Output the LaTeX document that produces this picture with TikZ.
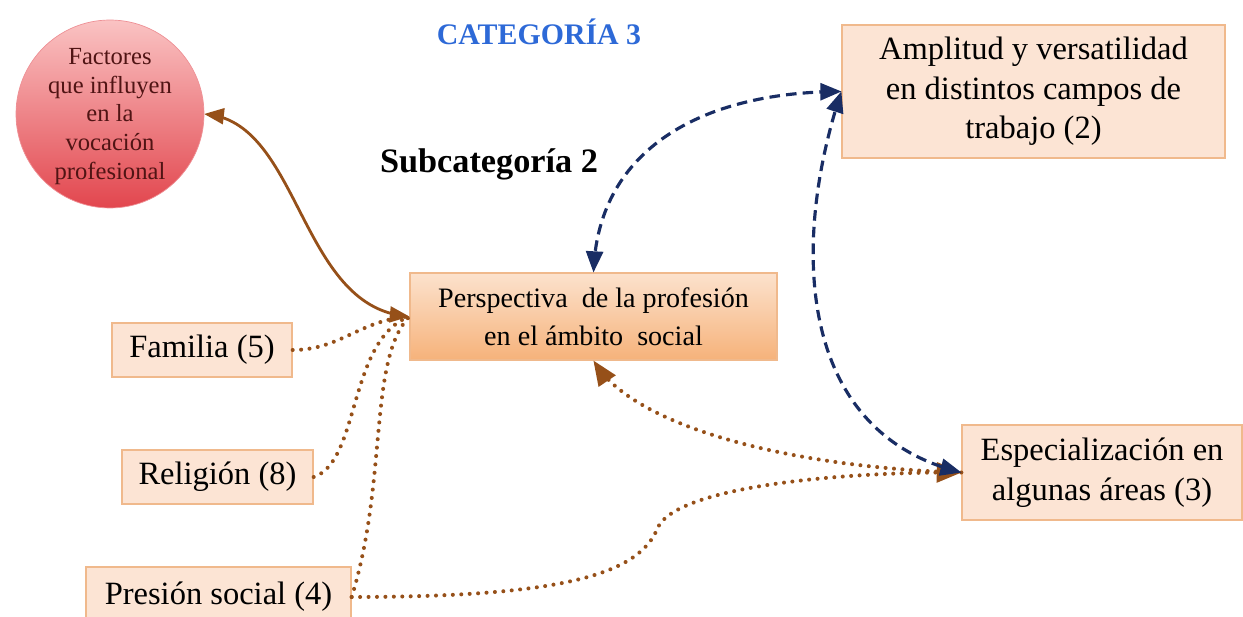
\documentclass[tikz,border=0pt]{standalone}
\usepackage{fontspec}
\setmainfont{Liberation Serif}
\usetikzlibrary{arrows}

\definecolor{cajafondo}{RGB}{252,228,212}
\definecolor{cajaborde}{RGB}{240,185,140}
\definecolor{perspsup}{RGB}{252,226,205}
\definecolor{perspinf}{RGB}{246,178,122}
\definecolor{circsup}{RGB}{250,195,195}
\definecolor{circinf}{RGB}{226,70,78}
\definecolor{circtexto}{RGB}{80,20,20}
\definecolor{azulcat}{RGB}{45,105,215}
\definecolor{marino}{RGB}{25,45,100}
\definecolor{cafe}{RGB}{150,80,25}

\tikzset{
  caja/.style={draw=cajaborde, fill=cajafondo, line width=0.8pt, align=center,
    inner sep=0pt, font=\fontsize{18.5}{22.5}\selectfont},
  solida/.style={cafe, line width=1.6pt, <->, >=triangle 45},
  punteada/.style={cafe, line width=2.3pt, line cap=round, dash pattern=on 0pt off 4.8pt},
  rayada/.style={marino, line width=1.8pt, dash pattern=on 6pt off 3.5pt, <->, >=triangle 45}
}

\begin{document}
\begin{tikzpicture}[x=0.02cm, y=-0.02cm]
    \useasboundingbox (0,0) rectangle (1243,617);

    % titulos
    \node[text=azulcat, font=\fontsize{17}{20}\selectfont\bfseries] (cat) at (539,32) {CATEGORÍA 3};
    \node[font=\fontsize{19.5}{23}\selectfont\bfseries] (subcat) at (489,164) {Subcategoría 2};

    % nodos
    \node[circle, draw=circinf!60, top color=circsup, bottom color=circinf, minimum size=3.76cm,
          inner sep=0pt, align=center, text=circtexto, font=\fontsize{14}{16.4}\selectfont] (factores) at (110,114)
          {\rule{0pt}{12pt}Factores\\que influyen\\en la\\vocación\\profesional};
    \node[caja, minimum width=7.66cm, minimum height=2.66cm] (amplitud) at (1033.5,91.5)
          {Amplitud y versatilidad\\en distintos campos de\\trabajo (2)};
    \node[caja, top color=perspsup, bottom color=perspinf, minimum width=7.34cm, minimum height=1.74cm,
          font=\fontsize{16}{21.5}\selectfont] (persp) at (593.5,316.5)
          {Perspectiva\ \ de la profesión\\en el ámbito\ \ social};
    \node[caja, minimum width=3.6cm, minimum height=1.08cm] (familia) at (202,350) {Familia (5)};
    \node[caja, minimum width=3.82cm, minimum height=1.08cm] (religion) at (217.5,477) {Religión (8)};
    \node[caja, minimum width=5.3cm, minimum height=1.2cm] (presion) at (218.5,597) {Presión social (4)};
    \node[caja, minimum width=5.6cm, minimum height=1.9cm] (espec) at (1102,472.5)
          {Especialización en\\algunas áreas (3)};

    % conectores
    \draw[solida] (factores.east) .. controls (300,125) and (300,305) .. (persp.west);

    \draw[punteada] (familia.east) .. controls (340,350) and (360,320) .. (persp.west);
    \draw[punteada] (religion.east) .. controls (360,462) and (348,340) .. (persp.west);
    \draw[punteada] (presion.east) .. controls (388,480) and (368,360) .. (persp.west);
    \draw[punteada, ->, >=triangle 45] (presion.east) .. controls (560,597) and (640,575) .. (658,527)
          .. controls (680,485) and (850,472) .. (espec.west);
    \draw[punteada, ->, >=triangle 45] (espec.west) .. controls (800,468) and (640,430) .. (persp.south);

    \draw[rayada] (persp.north) .. controls (600,150) and (700,93) .. (amplitud.west);
    \draw[rayada] (amplitud.west) .. controls (790,250) and (800,430) .. (espec.west);
\end{tikzpicture}
\end{document}
